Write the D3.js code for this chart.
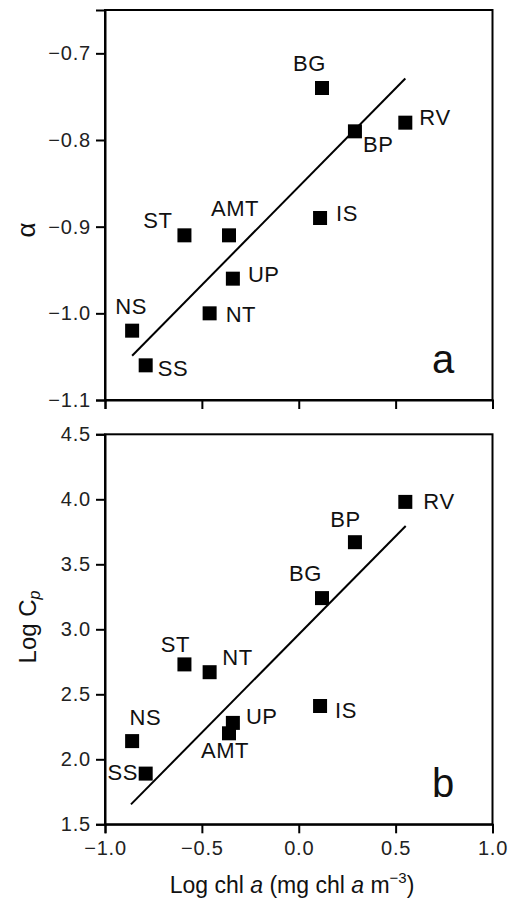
<!DOCTYPE html>
<html>
<head>
<meta charset="utf-8">
<script src="https://cdn.jsdelivr.net/npm/d3@7"></script>
<style>
  body { margin: 0; background: #fff; }
  svg { display: block; font-family: "Liberation Sans", Arial, Helvetica, sans-serif; }
</style>
</head>
<body>
<svg></svg>
<script>
const width = 509;
const height = 901;
const svg = d3.select("svg").attr("width", width).attr("height", height);

// data
const sites = ["BG", "BP", "RV", "IS", "ST", "AMT", "UP", "NT", "NS", "SS"];
const logChl = [0.12, 0.29, 0.55, 0.11, -0.59, -0.36, -0.34, -0.46, -0.86, -0.79];
const alpha = [-0.74, -0.79, -0.78, -0.89, -0.91, -0.91, -0.96, -1.00, -1.02, -1.06];
const logCp = [3.24, 3.67, 3.98, 2.41, 2.73, 2.20, 2.28, 2.67, 2.14, 1.89];
const fitA = [[-0.86, -1.049], [0.55, -0.729]];
const fitB = [[-0.866, 1.653], [0.552, 3.795]];
const xTicks = [-1.0, -0.5, 0.0, 0.5, 1.0];
const alphaTicks = [-1.1, -1.0, -0.9, -0.8, -0.7];
const cpTicks = [1.5, 2.0, 2.5, 3.0, 3.5, 4.0, 4.5];

// label placement: [anchor, dx, dy] per site
const labelsA = {
  BG: ["start", -29, -17], BP: ["start", 8, 21], RV: ["start", 14, 2],
  IS: ["start", 16, 2.5], ST: ["end", -12, -7], AMT: ["middle", 6, -19],
  UP: ["start", 15, 3], NT: ["start", 16, 9], NS: ["middle", -1, -17],
  SS: ["start", 12, 11]
};
const labelsB = {
  BG: ["end", 0, -17], BP: ["middle", -9.5, -15.6], RV: ["start", 18, 7],
  IS: ["start", 15, 12], ST: ["middle", -9, -12.6], AMT: ["middle", -4, 24.7],
  UP: ["start", 13, 0.7], NT: ["start", 12.7, -7.3], NS: ["start", -2.7, -15.7],
  SS: ["end", -7.6, 6.7]
};

const left = 105, right = 492.5;
const x = d3.scaleLinear().domain([-1, 1]).range([left, right]);
const fmt = d3.format(".1f");

function styleAxis(a) {
  a.attr("font-family", null).attr("font-size", null);
  a.select(".domain").attr("stroke-width", 2);
  a.selectAll(".tick line").attr("stroke-width", 2);
  a.selectAll(".tick text").attr("font-size", 20).attr("letter-spacing", 0.8).attr("fill", "#222");
}

function panel(top, bottom, yDomain, yTicks, values, fit, labels, letter, showXLabels) {
  const y = d3.scaleLinear().domain(yDomain).range([bottom, top]);
  const g = svg.append("g");

  g.append("rect")
    .attr("x", left).attr("y", top)
    .attr("width", right - left).attr("height", bottom - top)
    .attr("fill", "none").attr("stroke", "#000").attr("stroke-width", 2);

  const ya = g.append("g")
    .attr("transform", `translate(${left},0)`)
    .call(d3.axisLeft(y).tickValues(yTicks).tickFormat(fmt).tickSize(9).tickPadding(5));
  styleAxis(ya);

  const xa = g.append("g")
    .attr("transform", `translate(0,${bottom})`)
    .call(d3.axisBottom(x).tickValues(xTicks).tickFormat(showXLabels ? fmt : "").tickSize(9).tickPadding(8));
  styleAxis(xa);

  g.append("path")
    .attr("d", d3.line().x(d => x(d[0])).y(d => y(d[1]))(fit))
    .attr("fill", "none").attr("stroke", "#000").attr("stroke-width", 2);

  const s = 14;
  g.selectAll("rect.pt")
    .data(sites)
    .join("rect")
    .attr("class", "pt")
    .attr("x", (d, i) => x(logChl[i]) - s / 2)
    .attr("y", (d, i) => y(values[i]) - s / 2)
    .attr("width", s).attr("height", s)
    .attr("fill", "#000");

  g.selectAll("text.lab")
    .data(sites)
    .join("text")
    .attr("class", "lab")
    .attr("x", (d, i) => x(logChl[i]) + labels[d][1])
    .attr("y", (d, i) => y(values[i]) + labels[d][2])
    .attr("text-anchor", d => labels[d][0])
    .attr("font-size", 22)
    .attr("letter-spacing", 0.6)
    .attr("fill", "#111")
    .text(d => d);

  g.append("text")
    .attr("x", 443).attr("y", bottom - 27)
    .attr("text-anchor", "middle")
    .attr("font-size", 40)
    .attr("fill", "#111")
    .text(letter);

  return y;
}

panel(10, 400, [-1.1, -0.65], alphaTicks, alpha, fitA, labelsA, "a", false);
panel(434.3, 824.3, [1.5, 4.5], cpTicks, logCp, fitB, labelsB, "b", true);

// axis titles
svg.append("text")
  .attr("transform", "translate(35,230) rotate(-90)")
  .attr("text-anchor", "middle")
  .attr("font-size", 26)
  .attr("fill", "#111")
  .text("α");

const cp = svg.append("text")
  .attr("transform", "translate(36,627) rotate(-90)")
  .attr("text-anchor", "middle")
  .attr("font-size", 24)
  .attr("fill", "#111");
cp.append("tspan").text("Log C");
cp.append("tspan").attr("font-style", "italic").attr("font-size", 16).attr("dy", 4).text("p");

const xt = svg.append("text")
  .attr("x", 292).attr("y", 893)
  .attr("text-anchor", "middle")
  .attr("font-size", 23)
  .attr("fill", "#111");
xt.append("tspan").text("Log chl ");
xt.append("tspan").attr("font-style", "italic").text("a");
xt.append("tspan").text(" (mg chl ");
xt.append("tspan").attr("font-style", "italic").text("a");
xt.append("tspan").text(" m");
xt.append("tspan").attr("font-size", 15).attr("dy", -10).text("−3");
xt.append("tspan").attr("dy", 10).text(")");
</script>
</body>
</html>
